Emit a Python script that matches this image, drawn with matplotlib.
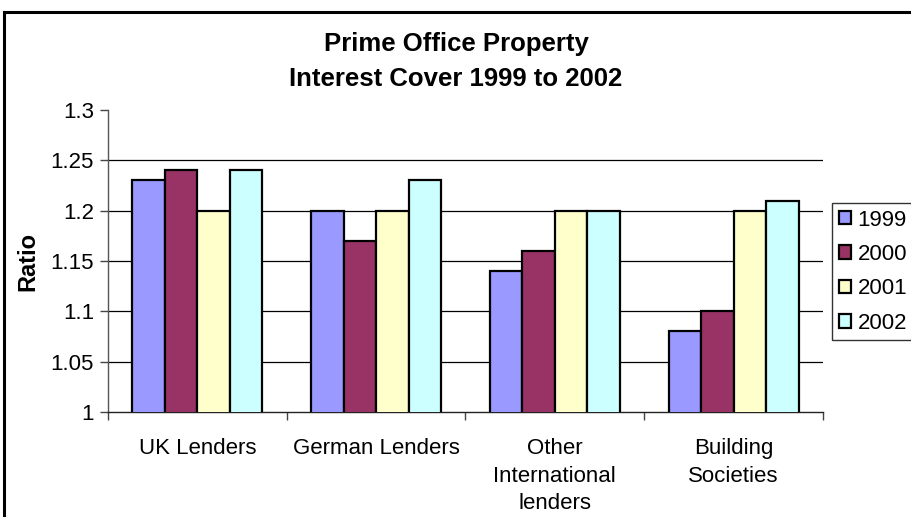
import numpy as np
import matplotlib
matplotlib.use("Agg")
import matplotlib.pyplot as plt
from matplotlib.lines import Line2D

plt.rcParams['font.family'] = ['Liberation Sans', 'DejaVu Sans']

# data
categories = ["UK Lenders", "German Lenders", "Other\nInternational\nlenders", "Building\nSocieties"]
years = ["1999", "2000", "2001", "2002"]
ratio_1999 = [1.23, 1.20, 1.14, 1.08]
ratio_2000 = [1.24, 1.17, 1.16, 1.10]
ratio_2001 = [1.20, 1.20, 1.20, 1.20]
ratio_2002 = [1.24, 1.23, 1.20, 1.21]
series = [ratio_1999, ratio_2000, ratio_2001, ratio_2002]
colors = ["#9999FF", "#993366", "#FFFFCC", "#CCFFFF"]
yticks = [1, 1.05, 1.1, 1.15, 1.2, 1.25, 1.3]

fig = plt.figure(figsize=(9.12, 5.17), dpi=100)
ax = fig.add_axes([0.1184, 0.2031, 0.784, 0.5841])

# chart area border: left and top edges only, the rest runs off the page
bx, by = 4 / 912, 1 - 12 / 517
fig.add_artist(Line2D([bx, bx], [0, by], transform=fig.transFigure,
                      color="black", linewidth=2.2))
fig.add_artist(Line2D([bx, 1], [by, by], transform=fig.transFigure,
                      color="black", linewidth=2.2))

x = np.arange(len(categories))
bw = 1 / 5.5
for i, (vals, c, yr) in enumerate(zip(series, colors, years)):
    ax.bar(x + (i - 1.5) * bw, vals, width=bw, color=c, edgecolor="black",
           linewidth=1.6, label=yr, zorder=3)

ax.set_ylim(1, 1.3)
ax.set_xlim(-0.5, len(categories) - 0.5)
ax.set_yticks(yticks)
ax.set_yticklabels([f"{v:g}" for v in yticks])

for v in yticks[1:-1]:
    ax.axhline(v, color="black", linewidth=0.9, zorder=1)

ax.set_xticks(x)
ax.set_xticklabels(categories, fontsize=16, linespacing=1.4, va="top")
ax.set_xticks(np.arange(len(categories) + 1) - 0.5, minor=True)
ax.tick_params(axis="x", which="major", length=0, pad=19)
ax.tick_params(axis="x", which="minor", length=6, width=1, color="#444444")
ax.tick_params(axis="y", labelsize=16, length=6, width=1, color="#444444", pad=4)

for s in ["top", "right"]:
    ax.spines[s].set_visible(False)
ax.spines["left"].set_color("#555555")
ax.spines["bottom"].set_color("#222222")
ax.spines["left"].set_linewidth(1)
ax.spines["bottom"].set_linewidth(1)

ax.set_ylabel("Ratio", fontsize=17, fontweight="bold", labelpad=8)

fig.text(0.5, 0.881, "Prime Office Property\nInterest Cover 1999 to 2002",
         ha="center", va="center", fontsize=18.5, fontweight="bold", linespacing=1.6)

leg = fig.legend(loc="upper left", bbox_to_anchor=(832 / 912, 1 - 203 / 517),
                 fontsize=16, frameon=True, fancybox=False, borderpad=0.3,
                 handlelength=0.55, handleheight=0.55, handletextpad=0.3,
                 labelspacing=0.6, borderaxespad=0)
leg.get_frame().set_edgecolor("black")
leg.get_frame().set_linewidth(1)

fig.savefig("out.png", dpi=100)
